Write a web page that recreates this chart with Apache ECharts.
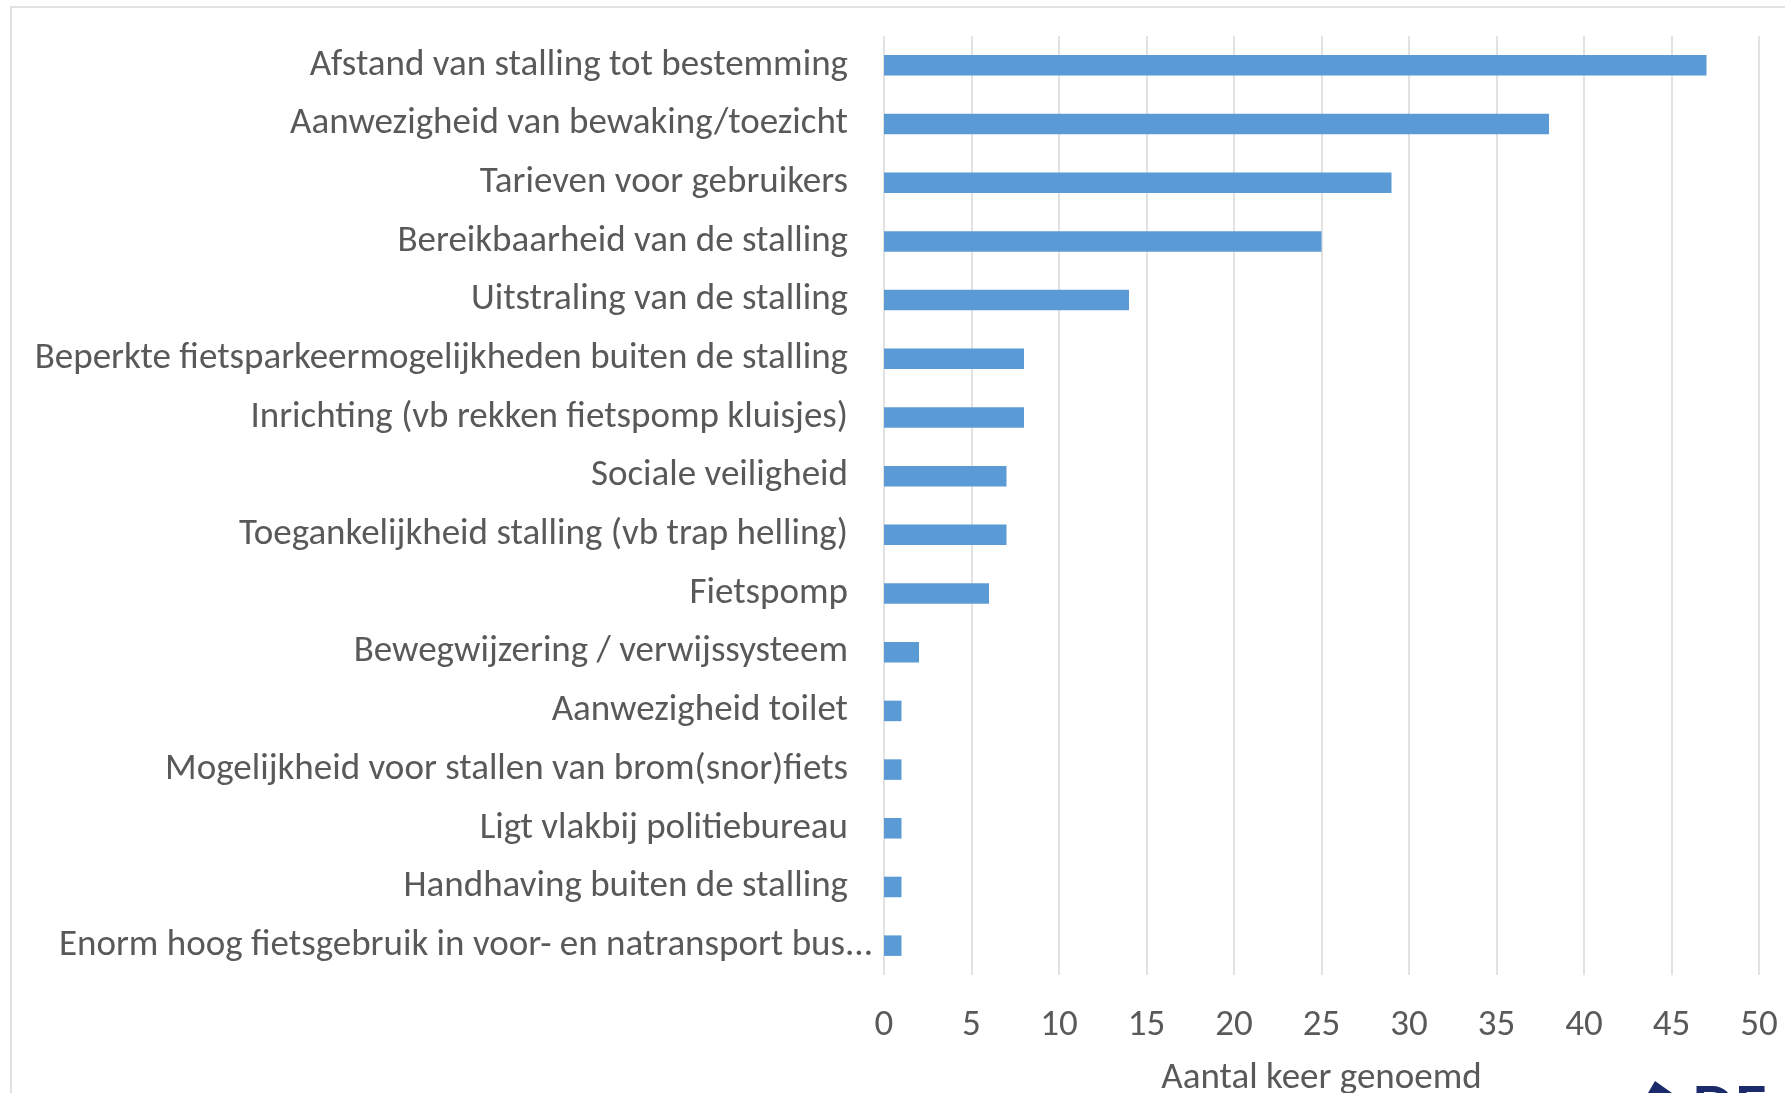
<!DOCTYPE html>
<html>
<head>
<meta charset="utf-8">
<script src="https://cdn.jsdelivr.net/npm/echarts@6/dist/echarts.min.js"></script>
<style>
  html, body { margin: 0; padding: 0; background: #ffffff; }
  #chart { width: 1785px; height: 1093px; }
</style>
</head>
<body>
<div id="chart"></div>
<script>
const categories = [
  "Afstand van stalling tot bestemming",
  "Aanwezigheid van bewaking/toezicht",
  "Tarieven voor gebruikers",
  "Bereikbaarheid van de stalling",
  "Uitstraling van de stalling",
  "Beperkte fietsparkeermogelijkheden buiten de stalling",
  "Inrichting (vb rekken fietspomp kluisjes)",
  "Sociale veiligheid",
  "Toegankelijkheid stalling (vb trap helling)",
  "Fietspomp",
  "Bewegwijzering / verwijssysteem",
  "Aanwezigheid toilet",
  "Mogelijkheid voor stallen van brom(snor)fiets",
  "Ligt vlakbij politiebureau",
  "Handhaving buiten de stalling",
  "Enorm hoog fietsgebruik in voor- en natransport bus..."
];
const values = [47, 38, 29, 25, 14, 8, 8, 7, 7, 6, 2, 1, 1, 1, 1, 1];
const xTicks = { min: 0, max: 50, interval: 5 };
const axisTitle = "Aantal keer genoemd";

const FONT = "Carlito, Calibri, 'Open Sans', sans-serif";
const TEXT = "#595959";
const FS = 37;

const chart = echarts.init(document.getElementById('chart'), null, { renderer: 'canvas' });
chart.setOption({
  backgroundColor: '#ffffff',
  animation: false,
  graphic: [
    {
      type: 'rect',
      shape: { x: 11, y: 7, width: 1800, height: 1200 },
      style: { fill: 'none', stroke: '#d9d9d9', lineWidth: 1.5 },
      silent: true, z: -10
    },
    {
      type: 'text',
      left: 1692, top: 1080,
      style: { text: 'DE', fill: '#1b2a6b', font: 'bold 56px Lato, sans-serif' }
    },
    {
      type: 'polygon',
      shape: { points: [[1648, 1093], [1655, 1081], [1672, 1093]] },
      style: { fill: '#1b2a6b' }
    }
  ],
  grid: { left: 884, right: 26, top: 36, bottom: 118, containLabel: false, outerBoundsMode: 'none' },
  xAxis: {
    type: 'value',
    min: xTicks.min, max: xTicks.max, interval: xTicks.interval,
    name: axisTitle,
    nameLocation: 'middle',
    nameGap: 85,
    nameTextStyle: { color: TEXT, fontFamily: FONT, fontSize: FS },
    axisLine: { show: false },
    axisTick: { show: false },
    axisLabel: { color: TEXT, fontFamily: FONT, fontSize: FS, margin: 32 },
    splitLine: { show: true, showMinLine: true, showMaxLine: true, lineStyle: { color: '#d9d9d9', width: 1.5 } }
  },
  yAxis: {
    type: 'category',
    data: categories,
    inverse: true,
    axisLine: { show: false },
    axisTick: { show: false },
    axisLabel: {
      color: TEXT, fontFamily: FONT, fontSize: FS, margin: 11,
      formatter: function (v, i) {
        return i === categories.length - 1 ? '{b|' + v + '}' : '{a|' + v + '}';
      },
      rich: {
        a: { color: TEXT, fontFamily: FONT, fontSize: FS, padding: [0, 25, 0, 0] },
        b: { color: TEXT, fontFamily: FONT, fontSize: FS }
      }
    }
  },
  series: [{
    type: 'bar',
    data: values,
    barCategoryGap: '65%',
    itemStyle: { color: '#5b9bd5' },
    silent: true
  }]
});
</script>
</body>
</html>
